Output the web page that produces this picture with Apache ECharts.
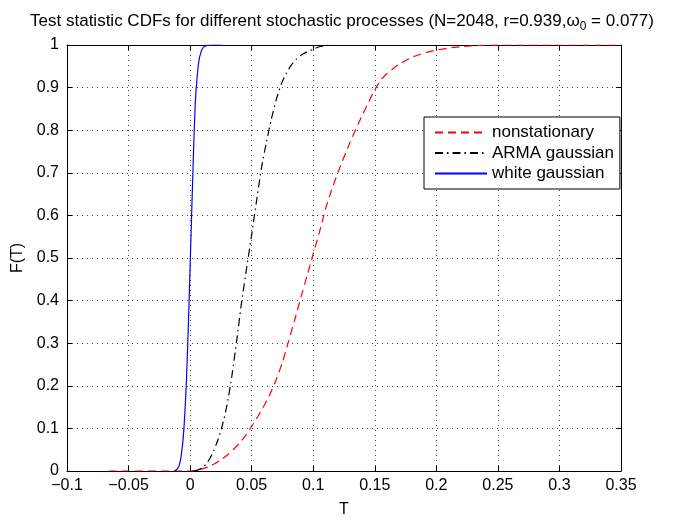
<!DOCTYPE html>
<html>
<head>
<meta charset="utf-8">
<script src="https://cdn.jsdelivr.net/npm/echarts@6/dist/echarts.min.js"></script>
<style>html,body{margin:0;padding:0;background:#fff;overflow:hidden;}#chart{width:684px;height:523px;}</style>
</head>
<body>
<div id="chart"></div>
<script>
// ---- data ----
const nonstatT = [-0.066, -0.02, 0, 0.005, 0.01, 0.015, 0.02, 0.025, 0.03, 0.035, 0.04, 0.045, 0.05, 0.055, 0.06, 0.065, 0.07, 0.075, 0.08, 0.085, 0.09, 0.095, 0.1, 0.105, 0.11, 0.115, 0.12, 0.125, 0.13, 0.135, 0.14, 0.145, 0.15, 0.155, 0.16, 0.165, 0.17, 0.18, 0.19, 0.2, 0.21, 0.22, 0.235, 0.25, 0.35];
const nonstatF = [0, 0, 0, 0.002, 0.005, 0.01, 0.017, 0.026, 0.037, 0.05, 0.065, 0.083, 0.105, 0.128, 0.153, 0.181, 0.215, 0.255, 0.305, 0.355, 0.408, 0.458, 0.51, 0.56, 0.615, 0.66, 0.7, 0.737, 0.772, 0.805, 0.836, 0.866, 0.895, 0.918, 0.933, 0.945, 0.955, 0.971, 0.981, 0.988, 0.993, 0.996, 0.999, 1, 1];
const armaT = [0.003, 0.006, 0.01, 0.014, 0.018, 0.022, 0.026, 0.03, 0.034, 0.038, 0.042, 0.046, 0.05, 0.054, 0.058, 0.062, 0.066, 0.07, 0.074, 0.078, 0.082, 0.086, 0.09, 0.095, 0.1, 0.105, 0.11, 0.116];
const armaF = [0, 0.002, 0.008, 0.02, 0.04, 0.068, 0.105, 0.155, 0.225, 0.31, 0.4, 0.478, 0.555, 0.635, 0.712, 0.772, 0.826, 0.872, 0.908, 0.933, 0.952, 0.966, 0.976, 0.984, 0.99, 0.996, 0.999, 1];
const whiteT = [-0.013, -0.011, -0.009, -0.007, -0.005, -0.003, -0.001, 0.001, 0.003, 0.004, 0.005, 0.007, 0.009, 0.011, 0.014, 0.017, 0.026];
const whiteF = [0, 0.003, 0.012, 0.04, 0.1, 0.21, 0.38, 0.58, 0.77, 0.85, 0.9, 0.96, 0.985, 0.995, 0.999, 1, 1];
const seriesNames = ['nonstationary', 'ARMA gaussian', 'white gaussian'];
const xTickLabels = ['\u22120.1', '\u22120.05', '0', '0.05', '0.1', '0.15', '0.2', '0.25', '0.3', '0.35'];
const yTickLabels = ['0', '0.1', '0.2', '0.3', '0.4', '0.5', '0.6', '0.7', '0.8', '0.9', '1'];

const pairs = (xs, ys) => xs.map((x, i) => [x, ys[i]]);
const FONT = 'Liberation Sans';
const xMin = -0.1, xMax = 0.35, xStep = 0.05;

const el = document.getElementById('chart');
const chart = echarts.init(el, null, {renderer: 'canvas', width: 684, height: 523});
const gridDash = {color: '#444', type: [1, 4], width: 1};
const tick = {inside: true, length: 5, lineStyle: {color: '#000', width: 1}};
const axLine = {show: true, onZero: false, lineStyle: {color: '#000', width: 1}};

chart.setOption({
  backgroundColor: '#fff',
  animation: false,
  title: {
    text: 'Test statistic CDFs for different stochastic processes (N=2048, r=0.939,{w|\u03c9}{s|0} = 0.077)',
    left: 'center', top: 5,
    textStyle: {
      fontFamily: FONT, fontSize: 17, fontWeight: 'normal', color: '#000',
      rich: {
        w: {fontFamily: FONT, fontSize: 17, color: '#000'},
        s: {fontFamily: FONT, fontSize: 12, color: '#000', padding: [11, 0, 0, 0]}
      }
    }
  },
  grid: {left: 67, right: 63, top: 45, height: 440, containLabel: false},
  legend: {
    orient: 'vertical', left: 424, top: 117,
    backgroundColor: '#fff', borderColor: '#000', borderWidth: 1,
    padding: [7, 6, 7, 10], itemWidth: 52, itemHeight: 14, itemGap: 3.5,
    itemStyle: {opacity: 0},
    textStyle: {fontFamily: FONT, fontSize: 17, color: '#000'},
    data: seriesNames
  },
  xAxis: [{
    type: 'value', min: xMin, max: xMax, interval: xStep,
    name: 'T', nameLocation: 'middle', nameGap: 31,
    nameTextStyle: {fontFamily: FONT, fontSize: 16, color: '#000'},
    axisLine: axLine, axisTick: tick,
    axisLabel: {fontFamily: FONT, fontSize: 16, color: '#000', margin: 7,
      formatter: v => xTickLabels[Math.round((v - xMin) / xStep)]},
    splitLine: {show: true, lineStyle: gridDash}
  }, {
    type: 'value', min: xMin, max: xMax, interval: xStep, position: 'top',
    axisLine: axLine, axisTick: tick, axisLabel: {show: false}, splitLine: {show: false}
  }],
  yAxis: [{
    type: 'value', min: 0, max: 1, interval: 0.1,
    name: 'F(T)', nameLocation: 'middle', nameGap: 40,
    nameTextStyle: {fontFamily: FONT, fontSize: 16, color: '#000'},
    axisLine: axLine, axisTick: tick,
    axisLabel: {fontFamily: FONT, fontSize: 16, color: '#000', margin: 8,
      formatter: v => yTickLabels[Math.round(v * 10)]},
    splitLine: {show: true, lineStyle: gridDash}
  }, {
    type: 'value', min: 0, max: 1, interval: 0.1, position: 'right',
    axisLine: axLine, axisTick: tick, axisLabel: {show: false}, splitLine: {show: false}
  }],
  series: [{
    name: seriesNames[0], type: 'line', data: pairs(nonstatT, nonstatF),
    symbol: 'none', smooth: 0.2,
    lineStyle: {color: '#ff0000', width: 1.2, type: [8, 5]}, itemStyle: {color: '#ff0000'}
  }, {
    name: seriesNames[1], type: 'line', data: pairs(armaT, armaF),
    symbol: 'none', smooth: 0.2,
    lineStyle: {color: '#000000', width: 1.2, type: [8, 4, 1.5, 4]}, itemStyle: {color: '#000000'}
  }, {
    name: seriesNames[2], type: 'line', data: pairs(whiteT, whiteF),
    symbol: 'none', smooth: 0.2,
    lineStyle: {color: '#0000ff', width: 1.2}, itemStyle: {color: '#0000ff'}
  }]
});
</script>
</body>
</html>
